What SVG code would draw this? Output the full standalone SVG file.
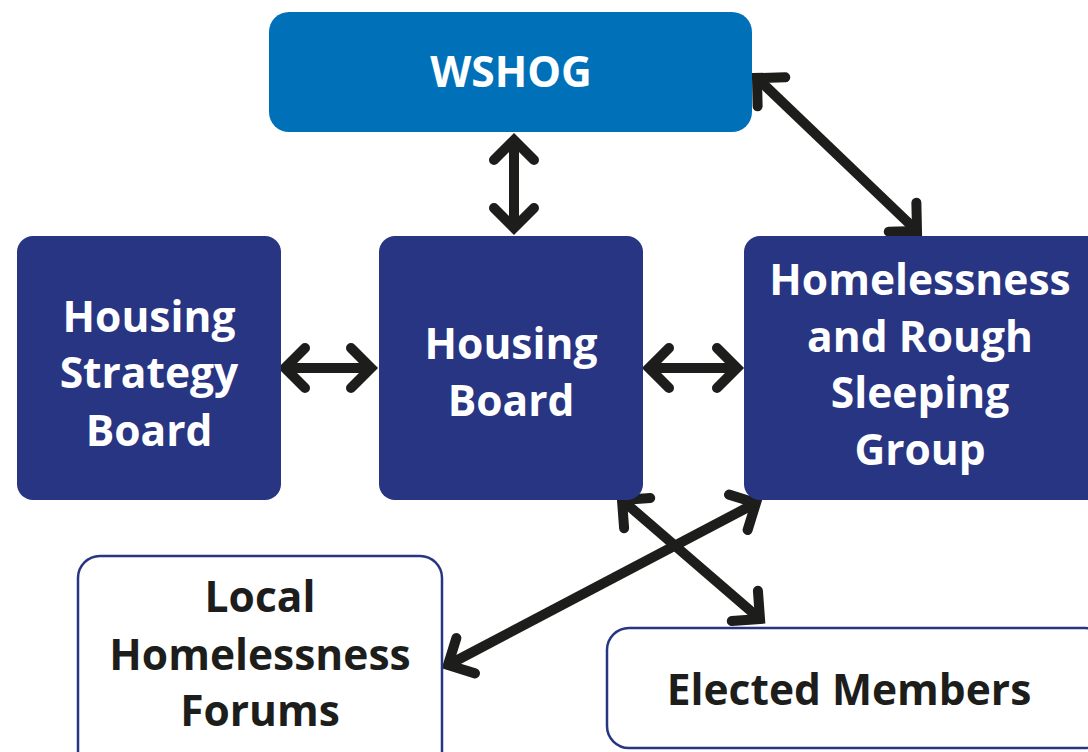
<svg xmlns="http://www.w3.org/2000/svg" width="1088" height="752" viewBox="0 0 1088 752">
  <defs>
    <style>
      .dark { fill: #283583; }
      .blue { fill: #0071b9; }
      .light { fill: #ffffff; stroke: #283583; stroke-width: 2.5; }
      .t { font-family: "Open Sans", "Liberation Sans", sans-serif; font-weight: 700; font-size: 42.5px; text-anchor: middle; }
      .tw { fill: #ffffff; }
      .tk { fill: #1d1d1b; }
      .conn { fill: none; stroke: #1d1d1b; stroke-width: 10; stroke-linecap: butt; marker-start: url(#head); marker-end: url(#head); }
    </style>
    <marker id="head" markerUnits="userSpaceOnUse" orient="auto-start-reverse" refX="0" refY="0" markerWidth="60" markerHeight="60" viewBox="-40 -30 60 60" overflow="visible">
      <path d="M -20 -20 L 0 0 L -20 20" fill="none" stroke="#1d1d1b" stroke-width="10" stroke-linecap="round" stroke-linejoin="miter"/>
    </marker>
  </defs>

  <g id="connectors">
    <line class="conn" x1="514" y1="140" x2="514" y2="228"/>
    <line class="conn" x1="285" y1="368" x2="371" y2="368"/>
    <line class="conn" x1="649" y1="368" x2="737" y2="368"/>
    <line class="conn" x1="757" y1="78" x2="917" y2="231"/>
    <line class="conn" x1="622" y1="500" x2="760" y2="619"/>
    <line class="conn" x1="756" y1="503" x2="448" y2="665"/>
  </g>

  <g id="wshog">
    <rect class="blue" x="269" y="12" width="483" height="120" rx="20"/>
    <text class="t tw" x="511" y="87">WSHOG</text>
  </g>
  <g id="housing-strategy-board">
    <rect class="dark" x="17" y="236" width="264" height="264" rx="16"/>
    <text class="t tw" x="149" y="332">Housing</text>
    <text class="t tw" x="149" y="388">Strategy</text>
    <text class="t tw" x="149" y="446">Board</text>
  </g>
  <g id="housing-board">
    <rect class="dark" x="379" y="236" width="264" height="264" rx="16"/>
    <text class="t tw" x="511" y="359">Housing</text>
    <text class="t tw" x="511" y="416">Board</text>
  </g>
  <g id="homelessness-rough-sleeping-group">
    <rect class="dark" x="744" y="236" width="360" height="264" rx="16"/>
    <text class="t tw" x="920" y="295">Homelessness</text>
    <text class="t tw" x="920" y="352">and Rough</text>
    <text class="t tw" x="920" y="408">Sleeping</text>
    <text class="t tw" x="920" y="465">Group</text>
  </g>
  <g id="local-homelessness-forums">
    <rect class="light" x="78" y="556" width="364" height="220" rx="22"/>
    <text class="t tk" x="260" y="612">Local</text>
    <text class="t tk" x="260" y="670">Homelessness</text>
    <text class="t tk" x="260" y="726">Forums</text>
  </g>
  <g id="elected-members">
    <rect class="light" x="607" y="628" width="500" height="120" rx="22"/>
    <text class="t tk" x="849" y="705">Elected Members</text>
  </g>
</svg>
